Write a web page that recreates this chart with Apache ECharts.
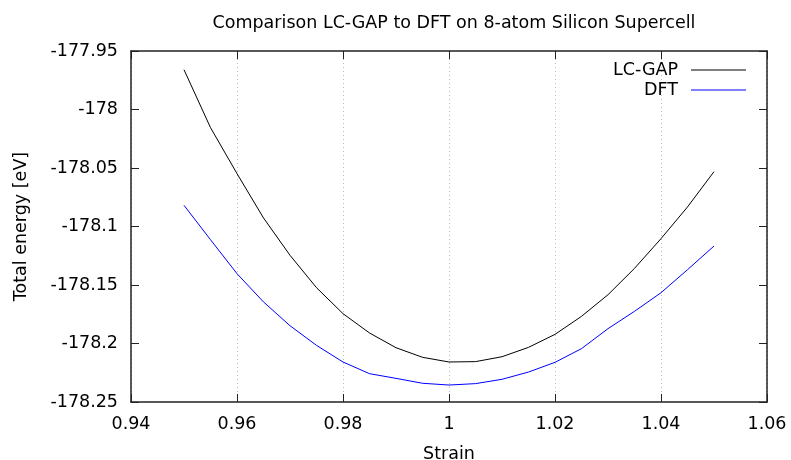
<!DOCTYPE html>
<html>
<head>
<meta charset="utf-8">
<script src="https://cdn.jsdelivr.net/npm/echarts@6/dist/echarts.min.js"></script>
<style>html,body{margin:0;padding:0;background:#fff}#c{width:791px;height:460px}</style>
</head>
<body>
<div id="c"></div>
<script>
var strain = [0.95,0.955,0.96,0.965,0.97,0.975,0.98,0.985,0.99,0.995,1.0,1.005,1.01,1.015,1.02,1.025,1.03,1.035,1.04,1.045,1.05];
var lcgap = [-177.966,-178.0155,-178.0548,-178.0927,-178.1246,-178.1523,-178.1745,-178.191,-178.2036,-178.2118,-178.2158,-178.2155,-178.2113,-178.2033,-178.1922,-178.1768,-178.1583,-178.1358,-178.1104,-178.0833,-178.0531];
var dft = [-178.0819,-178.1113,-178.1403,-178.1645,-178.1848,-178.2016,-178.2158,-178.2258,-178.2298,-178.234,-178.2355,-178.2343,-178.2306,-178.2244,-178.2161,-178.2044,-178.1873,-178.1725,-178.1566,-178.1369,-178.1167];
var seriesNames = ['LC-GAP','DFT'];
var titleText = 'Comparison LC-GAP to DFT on 8-atom Silicon Supercell';

function pairs(xs, ys){ return xs.map(function(x,i){ return [x, ys[i]]; }); }

var FONT = 'DejaVu Sans';
var FS = 17.5;
var chart = echarts.init(document.getElementById('c'), null, {renderer:'canvas'});
var axisLineStyle = {color:'#222', width:1.5};
chart.setOption({
  animation:false,
  backgroundColor:'#fff',
  textStyle:{fontFamily:FONT},
  title:{text:titleText, left:449, textAlign:'center', top:9,
    textStyle:{fontFamily:FONT, fontSize:FS, fontWeight:'normal', color:'#000'}},
  legend:[
    {data:[seriesNames[0]], right:45, top:61, padding:0, align:'right', itemWidth:55, itemHeight:1, icon:'rect',
      textStyle:{fontFamily:FONT, fontSize:FS, color:'#000', padding:[0,8,0,0]}, selectedMode:false},
    {data:[seriesNames[1]], right:45, top:81, padding:0, align:'right', itemWidth:55, itemHeight:1, icon:'rect',
      textStyle:{fontFamily:FONT, fontSize:FS, color:'#000', padding:[0,8,0,0]}, selectedMode:false}
  ],
  grid:{left:131, right:24, top:51, bottom:58, containLabel:false, outerBoundsMode:'none'},
  xAxis:[
    {type:'value', min:0.94, max:1.06, interval:0.02, position:'bottom',
      name:'Strain', nameLocation:'middle', nameGap:43,
      nameTextStyle:{fontFamily:FONT, fontSize:FS, color:'#000'},
      axisLine:{show:true, onZero:false, lineStyle:axisLineStyle},
      axisTick:{show:true, inside:true, length:8, lineStyle:{color:'#222', width:1}},
      axisLabel:{fontFamily:FONT, fontSize:FS, color:'#000', margin:13},
      splitLine:{show:true, lineStyle:{color:'#bbb', type:[1,3], width:1}}},
    {type:'value', min:0.94, max:1.06, interval:0.02, position:'top',
      axisLine:{show:true, onZero:false, lineStyle:axisLineStyle},
      axisTick:{show:true, inside:true, length:8, lineStyle:{color:'#222', width:1}},
      axisLabel:{show:false}, splitLine:{show:false}}
  ],
  yAxis:[
    {type:'value', min:-178.25, max:-177.95, interval:0.05, position:'left',
      name:'Total energy [eV]', nameLocation:'middle', nameGap:101, nameRotate:90,
      nameTextStyle:{fontFamily:FONT, fontSize:FS, color:'#000'},
      axisLine:{show:true, onZero:false, lineStyle:axisLineStyle},
      axisTick:{show:true, inside:true, length:8, lineStyle:{color:'#222', width:1}},
      axisLabel:{fontFamily:FONT, fontSize:FS, color:'#000', margin:13},
      splitLine:{show:false}},
    {type:'value', min:-178.25, max:-177.95, interval:0.05, position:'right',
      axisLine:{show:true, onZero:false, lineStyle:axisLineStyle},
      axisTick:{show:true, inside:true, length:8, lineStyle:{color:'#222', width:1}},
      axisLabel:{show:false}, splitLine:{show:false}}
  ],
  series:[
    {name:seriesNames[0], type:'line', data:pairs(strain, lcgap), showSymbol:false, symbol:'none',
      lineStyle:{color:'#000', width:1}, itemStyle:{color:'#000'}},
    {name:seriesNames[1], type:'line', data:pairs(strain, dft), showSymbol:false, symbol:'none',
      lineStyle:{color:'#0000ff', width:1}, itemStyle:{color:'#0000ff'}}
  ]
});
</script>
</body>
</html>
